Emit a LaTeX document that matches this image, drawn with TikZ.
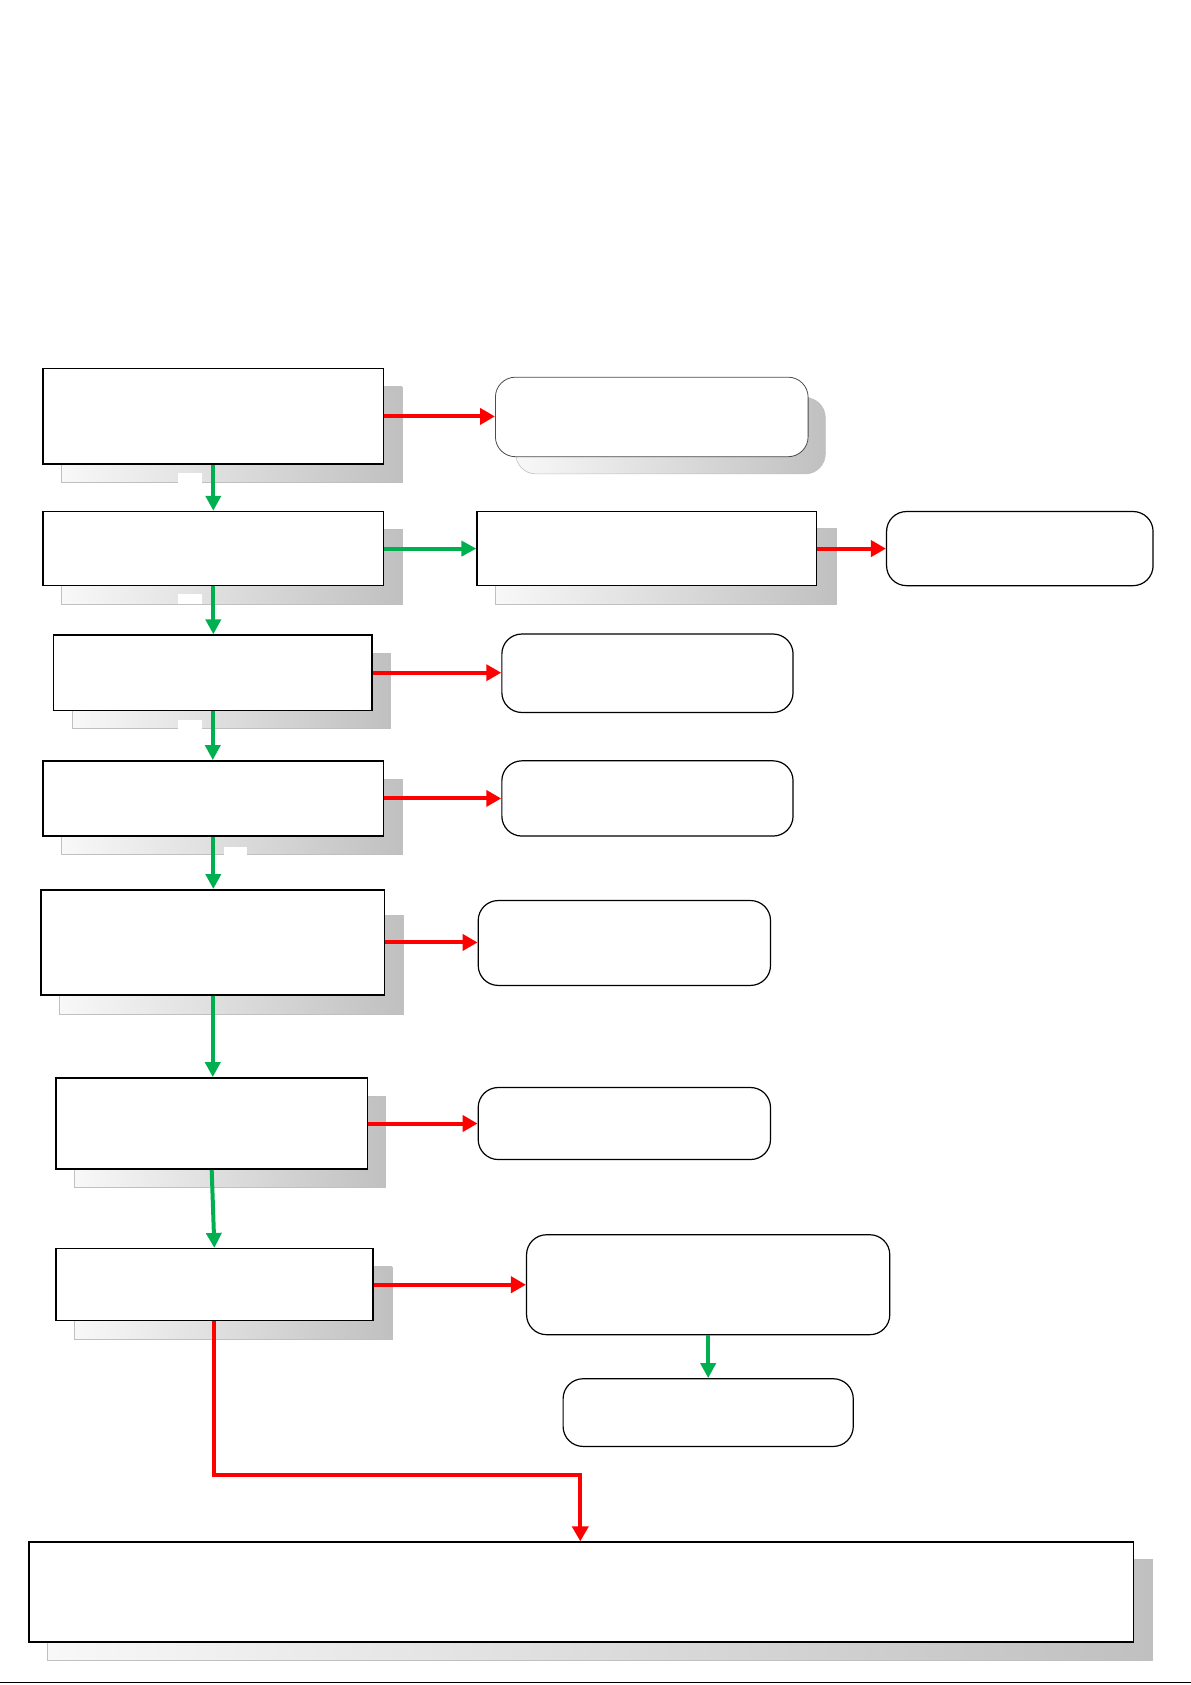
\documentclass[tikz,border=0pt]{standalone}
\usetikzlibrary{arrows.meta,fit}
\definecolor{arrred}{HTML}{FF0000}
\definecolor{arrgreen}{HTML}{00B050}
\definecolor{shdark}{HTML}{C0C0C0}
\definecolor{shlight}{HTML}{F8F8F8}
\begin{document}
\begin{tikzpicture}[x=1.0749pt,y=-1.0749pt,
  box/.style={draw=black,line width=1.5pt,fill=white,inner sep=0pt},
  rbox/.style={draw=black,line width=1.2pt,fill=white,inner sep=0pt,rounded corners=20pt},
  shd/.style={left color=shlight,right color=shdark,draw=shdark,line width=0.6pt},
  redarr/.style={draw=arrred,line width=4pt,-{Triangle[length=15pt,width=16pt]}},
  greenarr/.style={draw=arrgreen,line width=4pt,-{Triangle[length=15pt,width=15pt]}}]
\useasboundingbox (0,0) rectangle (1108,1568);
\fill[white] (0,0) rectangle (1108,1568);
% shadows
\shade[shd] (57,360) rectangle (374,449);
\shade[shd,rounded corners=20pt] (480,370) rectangle (768,441);
\shade[shd] (57,493) rectangle (374,562);
\shade[shd] (461,492) rectangle (778,562);
\shade[shd] (67,608) rectangle (363,678);
\shade[shd] (57,725) rectangle (374,795);
\shade[shd] (55,852) rectangle (375,944);
\shade[shd] (69,1020) rectangle (359,1105);
\shade[shd] (69,1179) rectangle (365,1246);
\shade[shd] (44,1451) rectangle (1072,1545);
% small gaps in shadows
\fill[white] (166,440) rectangle (188,449.5);
\fill[white] (166,553) rectangle (188,562.5);
\fill[white] (166,670) rectangle (188,678.5);
\fill[white] (208,788) rectangle (230,795.5);
% boxes
\node[box,fit={(40,343) (357,432)}] (b1) {};
\node[rbox,draw=black!70,line width=0.8pt,fit={(461,351) (752,425)}] (r1) {};
\node[box,fit={(40,476) (357,545)}] (b2) {};
\node[box,fit={(444,476) (760,545)}] (b2b) {};
\node[rbox,fit={(825,476) (1073,545)}] (r2) {};
\node[box,fit={(50,591) (346,661)}] (b3) {};
\node[rbox,fit={(467,590) (738,663)}] (r3) {};
\node[box,fit={(40,708) (357,778)}] (b4) {};
\node[rbox,fit={(467,708) (738,778)}] (r4) {};
\node[box,fit={(38,828) (358,926)}] (b5) {};
\node[rbox,fit={(445,838) (717,917)}] (r5) {};
\node[box,fit={(52,1003) (342,1088)}] (b6) {};
\node[rbox,fit={(445,1012) (717,1079)}] (r6) {};
\node[box,fit={(52,1162) (347,1229)}] (b7) {};
\node[rbox,fit={(490,1149) (828,1242)}] (r7) {};
\node[rbox,fit={(524,1283) (794,1346)}] (r8) {};
\node[box,fit={(27,1435) (1055,1528)}] (b9) {};
\coordinate (bend) at (540,1373);
% connectors
\draw[redarr] (b1.east) -- (b1.east -| r1.west);
\draw[greenarr] (b1.south) -- (b1.south |- b2.north);
\draw[greenarr] (b2.east) -- (b2.east -| b2b.west);
\draw[redarr] (b2b.east) -- (b2b.east -| r2.west);
\draw[greenarr] (b2.south) -- (b2.south |- b3.north);
\draw[redarr] (b3.east) -- (b3.east -| r3.west);
\draw[greenarr] (b3.south) -- (b3.south |- b4.north);
\draw[redarr] (b4.east) -- (b4.east -| r4.west);
\draw[greenarr] (b4.south) -- (b4.south |- b5.north);
\draw[redarr] (b5.east) -- (b5.east -| r5.west);
\draw[greenarr] (b5.south) -- (b5.south |- b6.north);
\draw[redarr] (b6.east) -- (b6.east -| r6.west);
\draw[greenarr] (b6.south) -- (b7.north);
\draw[redarr] (b7.east) -- (b7.east -| r7.west);
\draw[greenarr] (r7.south) -- (r7.south |- r8.north);
\draw[redarr] (b7.south) |- (bend) -- (bend |- b9.north);
% bottom rule
\draw[line width=1.2pt] (0,1566) -- (1108,1566);
\end{tikzpicture}
\end{document}
